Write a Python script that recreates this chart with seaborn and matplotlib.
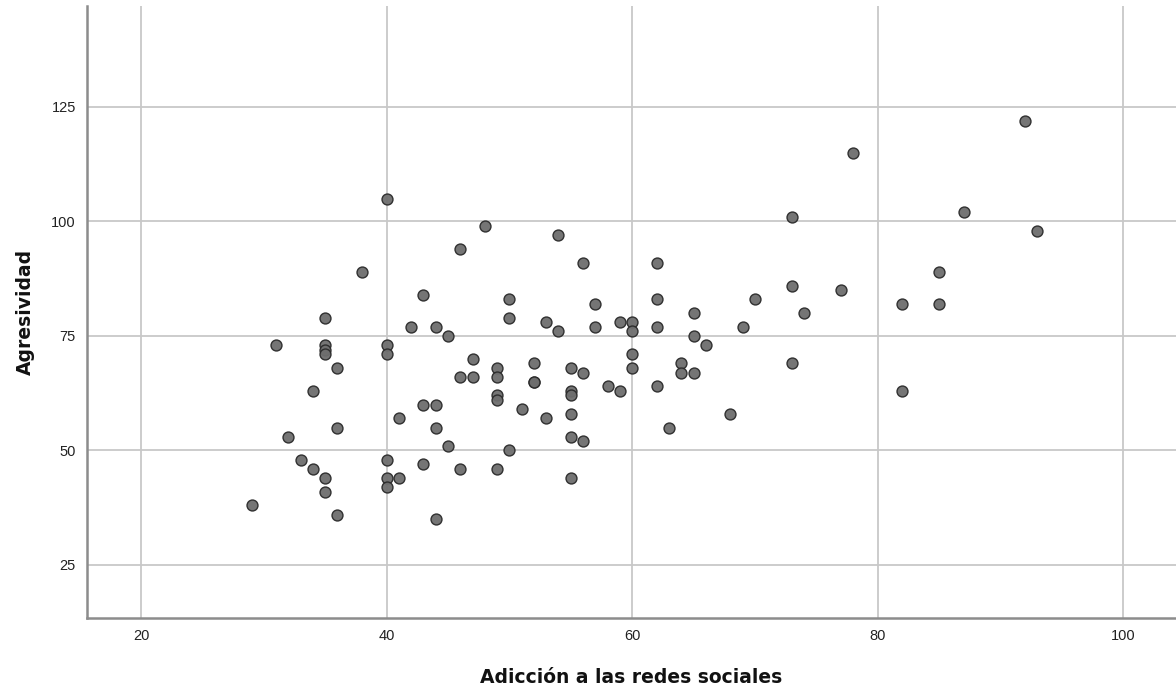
import matplotlib
matplotlib.use("Agg")
import matplotlib.pyplot as plt
import seaborn as sns
import pandas as pd

adiccion = [29, 31, 32, 33, 34, 34,
            35, 35, 35, 35, 35, 35,
            36, 36, 36, 38,
            40, 40, 40, 40, 40, 40,
            41, 41, 42, 43, 43, 43,
            44, 44, 44, 44, 45, 45,
            46, 46, 46, 47, 47, 48,
            49, 49, 49, 49, 49,
            50, 50, 50, 51, 52, 52, 52,
            53, 53, 54, 54,
            55, 55, 55, 55, 55, 55,
            56, 56, 56, 57, 57, 58, 59, 59,
            60, 60, 60, 60,
            62, 62, 62, 62, 63, 64, 64,
            65, 65, 65, 66, 68, 69, 70,
            73, 73, 73, 74, 77, 78,
            82, 82, 85, 85, 87, 92, 93]
agresividad = [38, 73, 53, 48, 63, 46,
               79, 73, 72, 71, 44, 41,
               68, 55, 36, 89,
               105, 73, 71, 48, 44, 42,
               57, 44, 77, 84, 60, 47,
               77, 60, 55, 35, 75, 51,
               94, 66, 46, 70, 66, 99,
               68, 66, 62, 61, 46,
               83, 79, 50, 59, 69, 65, 65,
               78, 57, 97, 76,
               68, 63, 62, 58, 53, 44,
               91, 67, 52, 82, 77, 64, 78, 63,
               78, 76, 71, 68,
               91, 83, 77, 64, 55, 69, 67,
               80, 75, 67, 73, 58, 77, 83,
               101, 86, 69, 80, 85, 115,
               82, 63, 89, 82, 102, 122, 98]

x_ticks = [20, 40, 60, 80, 100]
y_ticks = [25, 50, 75, 100, 125]
x_label = "Adicción a las redes sociales"
y_label = "Agresividad"

df = pd.DataFrame({x_label: adiccion, y_label: agresividad})

sns.set_theme(style="white")
plt.rcParams['font.family'] = ['Liberation Sans', 'DejaVu Sans']

fig = plt.figure(figsize=(11.76, 6.89), dpi=100)
ax = fig.add_axes([0.074, 0.103, 0.926, 0.888])

sns.scatterplot(data=df, x=x_label, y=y_label, ax=ax, s=62,
                color="#6e6e6e", edgecolor="#2a2a2a", linewidth=1.0,
                alpha=0.95, zorder=3)

ax.set_xlim(15.6, 104.3)
ax.set_ylim(13.4, 147)
ax.set_xticks(x_ticks)
ax.set_yticks(y_ticks)
ax.grid(True, color="#c8c8c8", linewidth=1.3)
ax.set_axisbelow(True)
for s in ["top", "right"]:
    ax.spines[s].set_visible(False)
for s in ["left", "bottom"]:
    ax.spines[s].set_color("#8c8c8c")
    ax.spines[s].set_linewidth(1.8)
ax.tick_params(axis="both", length=0, labelsize=10.5, colors="#222222", pad=8)
ax.set_xlabel(x_label, fontsize=13.5, fontweight="bold", color="#111111",
              labelpad=18, family=["DejaVu Sans"])
ax.set_ylabel(y_label, fontsize=13.5, fontweight="bold", color="#111111",
              labelpad=12, family=["DejaVu Sans"])

fig.savefig("out.png", dpi=100)
